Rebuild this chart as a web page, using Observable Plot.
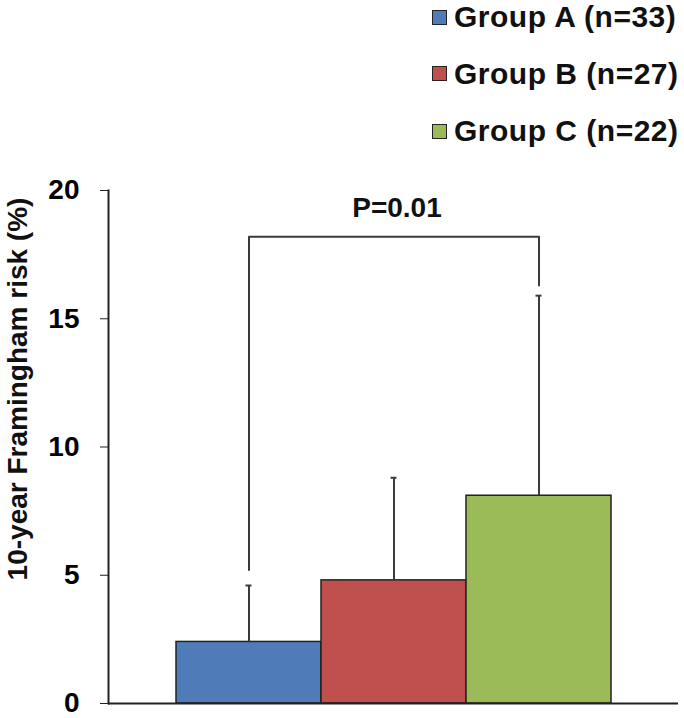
<!DOCTYPE html>
<html>
<head>
<meta charset="utf-8">
<script src="https://cdn.jsdelivr.net/npm/d3@7"></script>
<script src="https://cdn.jsdelivr.net/npm/@observablehq/plot@0.6"></script>
<style>
  html, body { margin: 0; padding: 0; background: #fff; }
  body { width: 684px; height: 718px; position: relative; overflow: hidden;
         font-family: "Liberation Sans", Arial, sans-serif; }
  #legend { position: relative; height: 150px; }
  .row { position: absolute; left: 432px; display: flex; align-items: center; white-space: nowrap;
         height: 30px; line-height: 30px; font-size: 30px; font-weight: bold; color: #111; letter-spacing: 0.5px; }
  .sw { width: 13px; height: 13px; border: 1px solid #222; margin-right: 7px; flex: none; }
</style>
</head>
<body>
<div id="legend"></div>
<div id="chart"></div>
<script>
// ---- data ----
const keys = ["A", "B", "C"];
const labels = ["Group A (n=33)", "Group B (n=27)", "Group C (n=22)"];
const means = [2.4, 4.8, 8.1];
const sds = [2.2, 4.0, 7.8];
const colors = ["#4F7BB8", "#C0504D", "#9BBB59"];
const yTicks = [0, 5, 10, 15, 20];
const yTitle = "10-year Framingham risk (%)";
const pLabel = "P=0.01";
const bracketTop = 18.2;
const bracketLeftEnd = 5.2;   // left leg bottom (above Group A error bar)
const bracketRightEnd = 16.3; // right leg bottom (above Group C error bar)
const legendTops = [2, 58.5, 116];

// ---- legend (HTML, above the SVG) ----
const legend = document.getElementById("legend");
labels.forEach((t, i) => {
  const r = document.createElement("div");
  r.className = "row";
  r.style.top = legendTops[i] + "px";
  const s = document.createElement("div");
  s.className = "sw";
  s.style.background = colors[i];
  r.appendChild(s);
  r.appendChild(document.createTextNode(t));
  legend.appendChild(r);
});

const data = keys.map((k, i) => ({key: k, mean: means[i], upper: means[i] + sds[i]}));
const bracket = [
  {key: keys[0], y: bracketLeftEnd},
  {key: keys[0], y: bracketTop},
  {key: keys[2], y: bracketTop},
  {key: keys[2], y: bracketRightEnd}
];
const capInset = 69.5;

const chart = Plot.plot({
  width: 684,
  height: 568,
  marginLeft: 108,
  marginRight: 6,
  marginTop: 40,
  marginBottom: 15,
  style: {fontFamily: '"Liberation Sans", Arial, sans-serif', fontSize: "28px", fontWeight: "bold", color: "#000", background: "#fff"},
  x: {domain: keys, paddingInner: 0, paddingOuter: 0.46, axis: null},
  y: {domain: [0, 20]},
  color: {domain: keys, range: colors},
  marks: [
    Plot.barY(data, {x: "key", y: "mean", fill: "key", stroke: "#222", strokeWidth: 1.5}),
    Plot.ruleX(data, {x: "key", y1: "mean", y2: "upper", stroke: "#3a3a3a", strokeWidth: 2}),
    Plot.tickY(data, {x: "key", y: "upper", stroke: "#3a3a3a", strokeWidth: 2, insetLeft: capInset, insetRight: capInset}),
    Plot.line(bracket, {x: "key", y: "y", stroke: "#3a3a3a", strokeWidth: 2, curve: "linear"}),
    Plot.text([pLabel], {x: () => keys[1], y: () => 19.3, text: d => d, textAnchor: "middle", lineAnchor: "middle", fontSize: 28, fontWeight: "bold", fill: "#111", dx: 3}),
    Plot.ruleY([0], {stroke: "#222", strokeWidth: 2}),
    Plot.axisY({ticks: yTicks, tickSize: 8, tickPadding: 21, label: null, stroke: "#222", tickFormat: d => String(d)}),
    Plot.frame({anchor: "left", stroke: "#222", strokeWidth: 2}),
    Plot.text([yTitle], {frameAnchor: "left", rotate: -90, dx: -90, dy: -58, text: d => d, textAnchor: "middle", lineAnchor: "middle", fontSize: 28, fontWeight: "bold", fill: "#111"})
  ]
});
document.getElementById("chart").appendChild(chart);
</script>
</body>
</html>
